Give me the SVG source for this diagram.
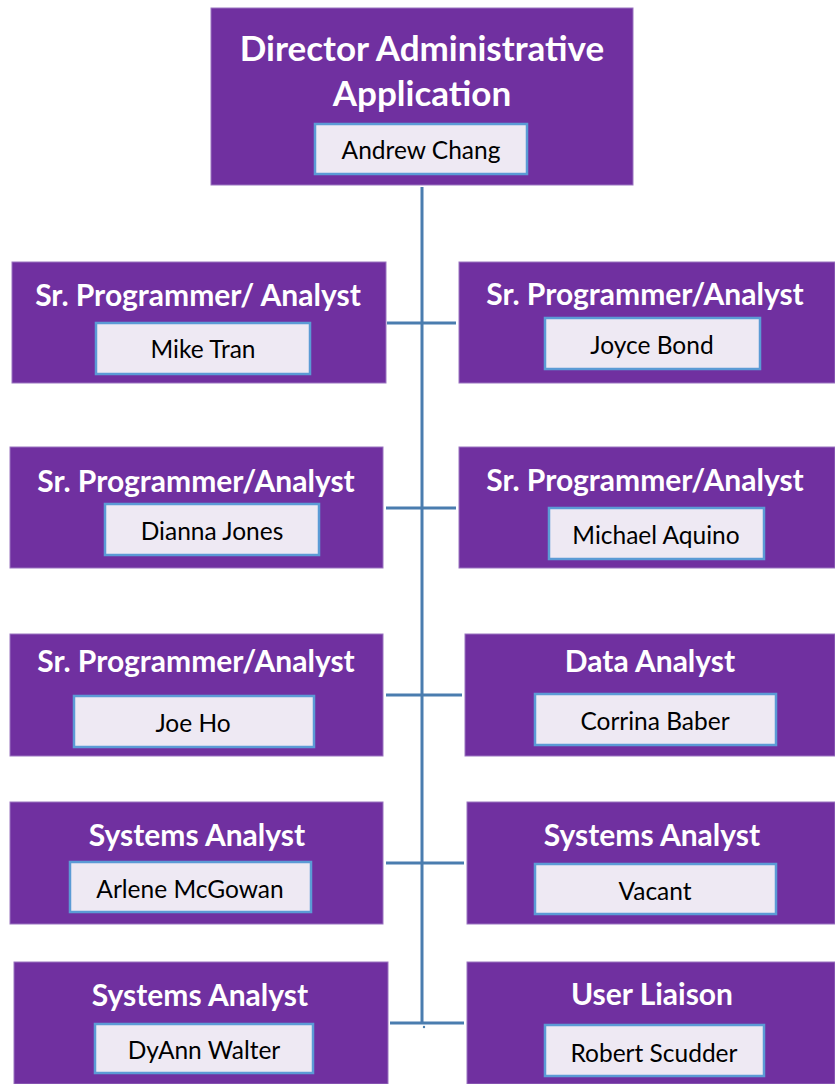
<svg xmlns="http://www.w3.org/2000/svg" width="835" height="1084" viewBox="0 0 835 1084">
<style>
.box{fill:#7030A0;stroke:#9A74C0;stroke-width:1}
.nm{fill:#EEE9F3;stroke:#5B9BD5;stroke-width:2.5}
.t{font-family:Lato,"Open Sans",sans-serif;font-weight:bold;font-size:30px;fill:#FFFFFF;text-anchor:middle}
.tt{font-family:Lato,"Open Sans",sans-serif;font-weight:bold;font-size:35px;fill:#FFFFFF;text-anchor:middle}
.n{font-family:Lato,"Open Sans",sans-serif;font-size:24.5px;fill:#000000;text-anchor:middle}
.c{stroke:#4A7DAF;stroke-width:3;fill:none}
</style>
<rect width="835" height="1084" fill="#FFFFFF"/>
<g id="connectors">
<line class="c" x1="422" y1="187" x2="422" y2="1024"/>
<line class="c" x1="387" y1="323" x2="456" y2="323"/>
<line class="c" x1="386" y1="508" x2="456" y2="508"/>
<line class="c" x1="386" y1="695" x2="462" y2="695"/>
<line class="c" x1="386" y1="863" x2="464" y2="863"/>
<line class="c" x1="390" y1="1023" x2="464" y2="1023"/>
<circle cx="424" cy="1027" r="1.2" fill="#4A7DAF"/>
</g>
<g id="director">
<rect class="box" x="211" y="8" width="422" height="177"/>
<text class="tt" x="422" y="60.5">Director Administrative</text>
<text class="tt" x="422" y="105.5">Application</text>
<rect class="nm" x="315" y="124" width="212" height="50"/>
<text class="n" x="421" y="158.5">Andrew Chang</text>
</g>
<g id="mike-tran">
<rect class="box" x="12" y="262" width="374" height="121"/>
<text class="t" x="198" y="305.5">Sr. Programmer/ Analyst</text>
<rect class="nm" x="96" y="323" width="214" height="51"/>
<text class="n" x="203" y="357.5">Mike Tran</text>
</g>
<g id="joyce-bond">
<rect class="box" x="459" y="262" width="376" height="121"/>
<text class="t" x="645" y="304.5">Sr. Programmer/Analyst</text>
<rect class="nm" x="545" y="318" width="215" height="51"/>
<text class="n" x="652" y="353.5">Joyce Bond</text>
</g>
<g id="dianna-jones">
<rect class="box" x="10" y="447" width="373" height="121"/>
<text class="t" x="196" y="491.5">Sr. Programmer/Analyst</text>
<rect class="nm" x="105" y="504" width="214" height="51"/>
<text class="n" x="212" y="539.5">Dianna Jones</text>
</g>
<g id="michael-aquino">
<rect class="box" x="459" y="447" width="376" height="121"/>
<text class="t" x="645" y="490.5">Sr. Programmer/Analyst</text>
<rect class="nm" x="549" y="508" width="215" height="51"/>
<text class="n" x="656" y="543.5">Michael Aquino</text>
</g>
<g id="joe-ho">
<rect class="box" x="10" y="634" width="373" height="122"/>
<text class="t" x="196" y="671.5">Sr. Programmer/Analyst</text>
<rect class="nm" x="74" y="696" width="240" height="51"/>
<text class="n" x="193" y="731.5">Joe Ho</text>
</g>
<g id="corrina-baber">
<rect class="box" x="465" y="634" width="370" height="122"/>
<text class="t" x="650" y="671.5">Data Analyst</text>
<rect class="nm" x="535" y="694" width="241" height="51"/>
<text class="n" x="655" y="729.5">Corrina Baber</text>
</g>
<g id="arlene-mcgowan">
<rect class="box" x="10" y="802" width="373" height="122"/>
<text class="t" x="197" y="845.5">Systems Analyst</text>
<rect class="nm" x="70" y="862" width="241" height="50"/>
<text class="n" x="190" y="897.5">Arlene McGowan</text>
</g>
<g id="vacant">
<rect class="box" x="467" y="802" width="368" height="122"/>
<text class="t" x="652" y="845.5">Systems Analyst</text>
<rect class="nm" x="535" y="864" width="241" height="50"/>
<text class="n" x="655" y="899.5">Vacant</text>
</g>
<g id="dyann-walter">
<rect class="box" x="14" y="962" width="374" height="122"/>
<text class="t" x="200" y="1005.5">Systems Analyst</text>
<rect class="nm" x="95" y="1024" width="218" height="49"/>
<text class="n" x="204" y="1058.5">DyAnn Walter</text>
</g>
<g id="robert-scudder">
<rect class="box" x="467" y="962" width="368" height="122"/>
<text class="t" x="652" y="1004.5">User Liaison</text>
<rect class="nm" x="545" y="1025" width="219" height="51"/>
<text class="n" x="654" y="1061.5">Robert Scudder</text>
</g>
</svg>
